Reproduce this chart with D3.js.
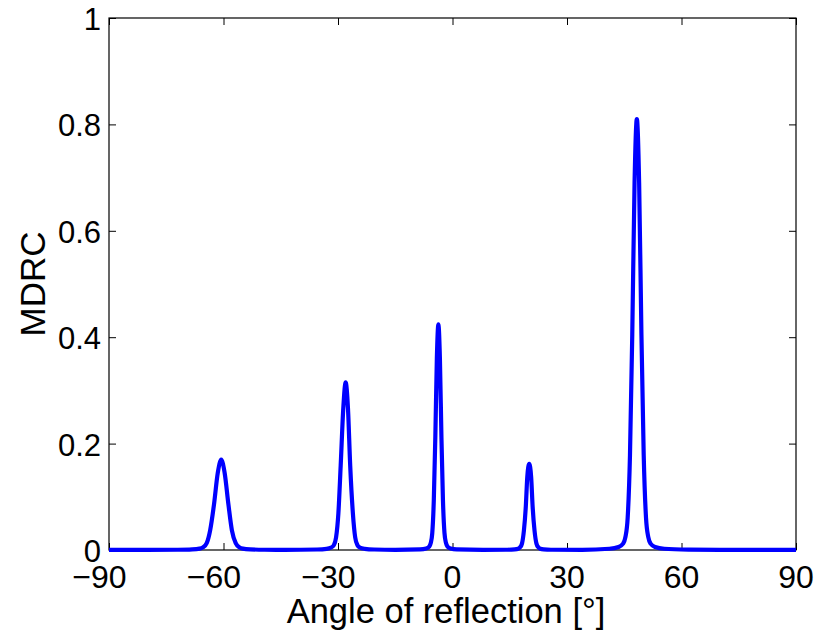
<!DOCTYPE html>
<html>
<head>
<meta charset="utf-8">
<script src="https://cdn.jsdelivr.net/npm/d3@7"></script>
<style>
  body { margin: 0; background: #fff; }
  svg { display: block; font-family: "Liberation Sans", Arial, Helvetica, sans-serif; }
</style>
</head>
<body>
<svg id="chart" width="816" height="634"></svg>
<script>
// angle of reflection [deg] and MDRC
var angles = [
  -90, -80, -72.0,
  -68.2, -66.3, -65.4, -64.4, -63.5, -62.5, -61.5, -60.6, -59.7, -58.7, -57.8, -56.8, -55.8, -54.9, -53.0, -49.2,
  -44,
  -35.5, -33.0, -31.8, -31.1, -30.5, -29.9, -29.3, -28.6, -28.0, -27.4, -26.8, -26.1, -25.5, -24.9, -24.3, -23.0, -20.5,
  -15,
  -8.5, -6.9, -6.1, -5.7, -5.3, -4.9, -4.5, -4.1, -3.7, -3.3, -2.9, -2.5, -2.1, -1.7, -1.3, -0.5, 1.1,
  8,
  14.4, 16.3, 17.2, 17.7, 18.2, 18.7, 19.2, 19.6, 20.1, 20.6, 21.0, 21.5, 22.0, 22.5, 23.0, 23.9, 25.8,
  34,
  41.1, 43.5, 44.7, 45.3, 45.9, 46.5, 47.1, 47.7, 48.3, 48.9, 49.5, 50.1, 50.7, 51.3, 51.9, 53.1, 55.5,
  62, 70, 80, 90
];
var mdrc = [
  0.0001, 0.0002, 0.0005,
  0.0012, 0.0026, 0.005, 0.013, 0.037, 0.085, 0.145, 0.170, 0.145, 0.085, 0.037, 0.013, 0.005, 0.0026, 0.0012, 0.0005,
  0.0003,
  0.0009, 0.0022, 0.0047, 0.009, 0.024, 0.069, 0.158, 0.268, 0.315, 0.268, 0.158, 0.069, 0.024, 0.009, 0.0047, 0.0022, 0.0009,
  0.0004,
  0.0013, 0.003, 0.0064, 0.013, 0.032, 0.093, 0.212, 0.360, 0.424, 0.360, 0.212, 0.093, 0.032, 0.013, 0.0064, 0.003, 0.0013,
  0.0004,
  0.0005, 0.0011, 0.0024, 0.005, 0.012, 0.036, 0.081, 0.138, 0.162, 0.138, 0.081, 0.036, 0.012, 0.005, 0.0024, 0.0011, 0.0005,
  0.0004,
  0.0024, 0.0057, 0.012, 0.024, 0.061, 0.178, 0.405, 0.69, 0.81, 0.69, 0.405, 0.178, 0.061, 0.024, 0.012, 0.0057, 0.0024,
  0.0008, 0.0003, 0.0002, 0.0001
];
var xTicks = [-90, -60, -30, 0, 30, 60, 90];
var yTicks = [0, 0.2, 0.4, 0.6, 0.8, 1];

var svg = d3.select("#chart");
var margin = {left: 109, right: 20, top: 18, bottom: 84};
var width = 816 - margin.left - margin.right,
    height = 634 - margin.top - margin.bottom;

var xScale = d3.scaleLinear().domain([-90, 90]).range([margin.left, margin.left + width]);
var yScale = d3.scaleLinear().domain([0, 1]).range([margin.top + height, margin.top]);

var tickLen = 7;
var fmtMinus = function(d) { return d < 0 ? "\u2212" + Math.abs(d) : String(d); };

// ticks on all four sides, pointing inward (matlab style)
var g = svg.append("g");
g.append("g")
    .attr("transform", "translate(0," + yScale(0) + ")")
    .call(d3.axisBottom(xScale).tickValues(xTicks).tickSize(-tickLen).tickFormat(""));
g.append("g")
    .attr("transform", "translate(0," + yScale(1) + ")")
    .call(d3.axisTop(xScale).tickValues(xTicks).tickSize(-tickLen).tickFormat(""));
g.append("g")
    .attr("transform", "translate(" + xScale(-90) + ",0)")
    .call(d3.axisLeft(yScale).tickValues(yTicks).tickSize(-tickLen).tickFormat(""));
g.append("g")
    .attr("transform", "translate(" + xScale(90) + ",0)")
    .call(d3.axisRight(yScale).tickValues(yTicks).tickSize(-tickLen).tickFormat(""));
g.selectAll(".domain").remove();
g.selectAll(".tick line").attr("stroke", "#000").attr("stroke-width", 1);

// box
svg.append("rect")
    .attr("x", xScale(-90)).attr("y", yScale(1))
    .attr("width", xScale(90) - xScale(-90))
    .attr("height", yScale(0) - yScale(1))
    .attr("fill", "none").attr("stroke", "#000").attr("stroke-width", 1.2);

// tick labels
svg.append("g").selectAll("text")
    .data(xTicks)
    .enter()
    .append("text")
      .attr("x", function(d) { return xScale(d) + (d < 0 ? -9.5 : 0); })
      .attr("y", 588)
      .attr("text-anchor", "middle")
      .attr("font-size", 32)
      .text(fmtMinus);

svg.append("g").selectAll("text")
    .data(yTicks)
    .enter()
    .append("text")
      .attr("x", 101)
      .attr("y", function(d) { return yScale(d) + 12; })
      .attr("text-anchor", "end")
      .attr("font-size", 31)
      .text(function(d) { return String(d); });

// the curve
var line = d3.line()
    .x(function(d, i) { return xScale(angles[i]); })
    .y(function(d) { return yScale(d); })
    .curve(d3.curveMonotoneX);

svg.append("path")
    .datum(mdrc)
    .attr("d", line)
    .attr("fill", "none")
    .attr("stroke", "#0000ff")
    .attr("stroke-width", 4.2)
    .attr("stroke-linejoin", "round");

// axis labels
svg.append("text")
    .attr("x", 446)
    .attr("y", 623)
    .attr("text-anchor", "middle")
    .attr("font-size", 34.5)
    .text("Angle of reflection [\u00b0]");

svg.append("text")
    .attr("transform", "translate(45," + ((yScale(0) + yScale(1)) / 2) + ") rotate(-90)")
    .attr("text-anchor", "middle")
    .attr("font-size", 35)
    .text("MDRC");
</script>
</body>
</html>
